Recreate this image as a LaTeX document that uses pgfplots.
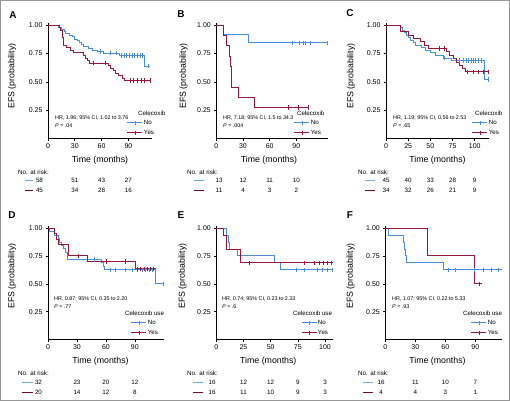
\documentclass[border=0pt]{standalone}
\usepackage{fontspec}
\setmainfont{Liberation Sans}
\usepackage{pgfplots}
\pgfplotsset{compat=1.18}
\definecolor{kmblue}{RGB}{74,144,217}
\definecolor{kmred}{RGB}{150,25,60}
\definecolor{rkblue}{RGB}{110,170,225}
\definecolor{rkred}{RGB}{120,10,40}
\definecolor{framegray}{RGB}{150,150,150}
\newcommand\fs[1]{\fontsize{#1}{#1}\selectfont}
\pgfplotsset{
 km/.style={
  scale only axis, anchor=south west,
  axis x line*=bottom, axis y line*=left,
  axis line style={line width=0.75bp, -},
  ymin=0, ymax=1.02,
  ytick={0.25,0.5,0.75,1}, yticklabels={0.25,0.50,0.75,1.00},
  tick align=outside, major tick length=2bp,
  tick style={line width=0.6bp, black},
  ticklabel style={font=\fs{7}},
  /pgf/number format/assume math mode=true,
  clip=false,
  legend style={draw=none, fill=none, inner sep=0pt, outer sep=0pt, anchor=north west,
    font=\fs{6.2}, nodes={inner sep=1bp, text height=4.5bp, text depth=1bp}, row sep=2.5bp},
  legend cell align=left,
  legend image code/.code={\draw[mark repeat=2,mark phase=2,##1] plot coordinates {(0bp,0bp) (7.5bp,0bp) (15bp,0bp)};},
 },
 cb/.style={kmblue, line width=0.9bp, const plot, forget plot},
 cr/.style={kmred, line width=0.9bp, const plot, forget plot},
 cens/.style={only marks, mark=|, mark size=2.2bp, mark options={line width=0.6bp}, forget plot},
 lgb/.style={kmblue, line width=0.9bp, mark=|, mark size=2.2bp, mark options={line width=0.6bp}},
 lgr/.style={kmred, line width=0.9bp, mark=|, mark size=2.2bp, mark options={line width=0.6bp}},
}
\newcommand\rk[3]{\node[font=\fs{6.3}] at (#1bp,-#2bp) {#3};}
\begin{document}
\begin{tikzpicture}
\useasboundingbox (0,0) rectangle (510bp,-401bp);
\draw[framegray, line width=0.8bp] (0.4bp,-0.4bp) rectangle (509.6bp,-400.6bp);

% ---------------- Panel A ----------------
\begin{axis}[km, at={(48bp,-138.5bp)}, width=103.6bp, height=115.5bp, xmin=0, xmax=116, xtick={0,30,60,90},
  legend style={at={(0.763,0.169)}}]
\addplot[cb] coordinates {(0,1) (12,0.983) (15,0.966) (18,0.948) (20,0.931) (24,0.914) (27,0.897) (30,0.879) (33,0.862) (35,0.845) (37,0.828) (40,0.810) (45,0.793) (50,0.776) (55,0.768) (62,0.755) (80,0.733) (108,0.640) (114,0.640)};
\addplot[cr] coordinates {(0,1) (12.5,0.978) (14,0.956) (16,0.889) (16.8,0.822) (21,0.80) (25,0.778) (29,0.756) (40,0.733) (42,0.711) (44,0.689) (46,0.667) (68,0.644) (70,0.622) (73,0.60) (76,0.578) (79,0.556) (83,0.533) (86,0.511) (115,0.511)};
\addplot[cens, kmblue] coordinates {(58,0.768) (70,0.755) (76,0.755) (82,0.733) (85,0.733) (88,0.733) (91,0.733) (94,0.733) (97,0.733) (100,0.733) (103,0.733) (106,0.733) (112,0.640)};
\addplot[cens, kmred] coordinates {(51,0.667) (64,0.667) (92,0.511) (96,0.511) (100,0.511) (104,0.511) (108,0.511) (114,0.511)};
\addlegendimage{lgb}\addlegendentry{No}
\addlegendimage{lgr}\addlegendentry{Yes}
\end{axis}

% ---------------- Panel B ----------------
\begin{axis}[km, at={(216.3bp,-138.5bp)}, width=112bp, height=115.5bp, xmin=0, xmax=126, xtick={0,30,60,90},
  legend style={at={(0.694,0.169)}}]
\addplot[cb] coordinates {(0,1) (7.5,0.923) (36,0.846) (126,0.846)};
\addplot[cr] coordinates {(0,1) (7.5,0.909) (11.5,0.818) (14.5,0.727) (15.5,0.636) (16.5,0.545) (17.5,0.455) (25,0.364) (42.5,0.273) (103,0.273)};
\addplot[cens, kmblue] coordinates {(86,0.846) (93,0.846) (98,0.846) (100,0.846) (106,0.846) (125,0.846)};
\addplot[cens, kmred] coordinates {(80.5,0.273) (92.5,0.273) (103,0.273)};
\addlegendimage{lgb}\addlegendentry{No}
\addlegendimage{lgr}\addlegendentry{Yes}
\end{axis}

% ---------------- Panel C ----------------
\begin{axis}[km, at={(386bp,-138.5bp)}, width=102.9bp, height=115.5bp, xmin=0, xmax=116, xtick={0,25,50,75,100},
  legend style={at={(0.836,0.169)}}]
\addplot[cb] coordinates {(0,1) (16.6,0.978) (18,0.956) (21,0.933) (23,0.911) (25.5,0.889) (28,0.867) (31,0.844) (33,0.822) (40,0.80) (44,0.778) (50,0.756) (56,0.733) (65,0.711) (74,0.689) (111,0.52) (115.5,0.52)};
\addplot[cr] coordinates {(0,1) (16.6,0.941) (25,0.912) (30.6,0.882) (39,0.853) (43,0.824) (47.5,0.794) (68,0.765) (72,0.735) (76,0.706) (79.5,0.676) (83,0.647) (86,0.618) (89,0.588) (115.5,0.588)};
\addplot[cens, kmblue] coordinates {(66,0.711) (83,0.689) (87,0.689) (90,0.689) (93,0.689) (96,0.689) (98.5,0.689) (101,0.689) (104,0.689) (107,0.689) (115,0.52)};
\addplot[cens, kmred] coordinates {(60,0.794) (66,0.794) (92,0.588) (98,0.588) (104,0.588) (110,0.588) (115,0.588)};
\addlegendimage{lgb}\addlegendentry{No}
\addlegendimage{lgr}\addlegendentry{Yes}
\end{axis}

% ---------------- Panel D ----------------
\begin{axis}[km, at={(48bp,-339.6bp)}, width=115.8bp, height=113.8bp, xmin=0, xmax=120, xtick={0,30,60,90},
  legend style={at={(0.717,0.181)}}]
\addplot[cb] coordinates {(0,1) (2,0.969) (7,0.938) (10.5,0.906) (12.3,0.875) (14,0.844) (15.7,0.813) (18.4,0.781) (20,0.719) (55,0.688) (57,0.656) (59,0.625) (111,0.50) (119,0.50)};
\addplot[cr] coordinates {(0,1) (7.2,0.95) (9,0.90) (10.5,0.85) (21,0.75) (41.3,0.70) (90.8,0.635) (112,0.635)};
\addplot[cens, kmblue] coordinates {(48,0.719) (65,0.625) (70,0.625) (80.5,0.625) (87,0.625) (92.5,0.625) (97.5,0.625) (101,0.625) (104.5,0.625) (108,0.625) (119,0.50)};
\addplot[cens, kmred] coordinates {(31,0.75) (60,0.70) (80.5,0.70) (92.5,0.635) (96,0.635) (99.5,0.635) (103,0.635) (106,0.635) (109.5,0.635)};
\addlegendimage{lgb}\addlegendentry{No}
\addlegendimage{lgr}\addlegendentry{Yes}
\end{axis}

% ---------------- Panel E ----------------
\begin{axis}[km, at={(216.3bp,-339.6bp)}, width=116.9bp, height=113.8bp, xmin=0, xmax=107.5, xtick={0,25,50,75,100},
  legend style={at={(0.725,0.181)}}]
\addplot[cb] coordinates {(0,1) (9,0.9375) (11,0.875) (12.5,0.8125) (19,0.75) (53.5,0.6875) (59,0.625) (107.5,0.625)};
\addplot[cr] coordinates {(0,1) (6.5,0.9375) (9,0.875) (9.5,0.8125) (22,0.6875) (107.5,0.6875)};
\addplot[cens, kmblue] coordinates {(73.4,0.625) (81,0.625) (93,0.625) (97.9,0.625) (102.4,0.625) (107,0.625)};
\addplot[cens, kmred] coordinates {(30.6,0.6875) (81,0.6875) (90,0.6875) (95,0.6875) (98,0.6875) (102.4,0.6875) (106,0.6875)};
\addlegendimage{lgb}\addlegendentry{No}
\addlegendimage{lgr}\addlegendentry{Yes}
\end{axis}

% ---------------- Panel F ----------------
\begin{axis}[km, at={(385.3bp,-339.6bp)}, width=117bp, height=113.8bp, xmin=0, xmax=117, xtick={0,30,60,90},
  legend style={at={(0.732,0.181)}}]
\addplot[cb] coordinates {(0,1) (2.7,0.9375) (17.7,0.875) (19.3,0.8125) (20.3,0.75) (21.3,0.6875) (57.7,0.625) (117,0.625)};
\addplot[cr] coordinates {(0,1) (42,0.75) (89.3,0.50) (96.7,0.50)};
\addplot[cens, kmblue] coordinates {(63,0.625) (70,0.625) (89.3,0.625) (97.7,0.625) (106,0.625) (112.7,0.625)};
\addplot[cens, kmred] coordinates {(93.7,0.50)};
\addlegendimage{lgb}\addlegendentry{No}
\addlegendimage{lgr}\addlegendentry{Yes}
\end{axis}

% ---------------- texts ----------------
\foreach \l/\x/\y in {A/13/15, B/181/14, C/350/13, D/12/215, E/181/215, F/350/215}
  {\node[font=\bfseries\fs{10}] at (\x bp,-\y bp) {\l};}
\foreach \x/\y in {12/76, 183.5/76, 351/76, 12/276, 182.5/276, 350.5/276}
  {\node[rotate=90, font=\fs{8.8}] at (\x bp,-\y bp) {EFS (probability)};}
\foreach \x/\y in {100/160, 269/160, 437.5/160, 100.5/361.7, 268.3/361.7, 437.5/361.7}
  {\node[font=\fs{8.8}] at (\x bp,-\y bp) {Time (months)};}

% HR texts
\node[anchor=west, font=\fs{5.4}, inner sep=0pt] at (55bp,-118.3bp) {HR, 1.96; 95\% CI, 1.02 to 3.76};
\node[anchor=west, font=\fs{5.4}, inner sep=0pt] at (55bp,-126bp) {\textit{P} = .04};
\node[anchor=west, font=\fs{5.4}, inner sep=0pt] at (223bp,-118.3bp) {HR, 7.18; 95\% CI, 1.5 to 34.3};
\node[anchor=west, font=\fs{5.4}, inner sep=0pt] at (223bp,-126bp) {\textit{P} = .004};
\node[anchor=west, font=\fs{5.4}, inner sep=0pt] at (393bp,-118.3bp) {HR, 1.19; 95\% CI, 0.56 to 2.53};
\node[anchor=west, font=\fs{5.4}, inner sep=0pt] at (393bp,-126bp) {\textit{P} = .65};
\node[anchor=west, font=\fs{5.4}, inner sep=0pt] at (54bp,-299.3bp) {HR, 0.87; 95\% CI, 0.35 to 2.20};
\node[anchor=west, font=\fs{5.4}, inner sep=0pt] at (54bp,-306.7bp) {\textit{P} = .77};
\node[anchor=west, font=\fs{5.4}, inner sep=0pt] at (222bp,-299.3bp) {HR, 0.74; 95\% CI, 0.23 to 2.33};
\node[anchor=west, font=\fs{5.4}, inner sep=0pt] at (222bp,-306.7bp) {\textit{P} = .6};
\node[anchor=west, font=\fs{5.4}, inner sep=0pt] at (392bp,-299.3bp) {HR, 1.07; 95\% CI, 0.22 to 5.33};
\node[anchor=west, font=\fs{5.4}, inner sep=0pt] at (392bp,-306.7bp) {\textit{P} = .93};

% legend titles
\node[anchor=west, font=\fs{6.2}, inner sep=0pt] at (138bp,-113.3bp) {Celecoxib};
\node[anchor=west, font=\fs{6.2}, inner sep=0pt] at (297bp,-113.3bp) {Celecoxib};
\node[anchor=west, font=\fs{6.2}, inner sep=0pt] at (475bp,-113.3bp) {Celecoxib};
\node[anchor=west, font=\fs{6.2}, inner sep=0pt] at (125bp,-313.3bp) {Celecoxib use};
\node[anchor=west, font=\fs{6.2}, inner sep=0pt] at (293bp,-313.3bp) {Celecoxib use};
\node[anchor=west, font=\fs{6.2}, inner sep=0pt] at (463bp,-313.3bp) {Celecoxib use};

% at-risk tables
\foreach \x/\y in {18/172.3, 187/172.3, 358/172.3, 18/373.3, 187/373.3, 358/373.3}
  {\node[anchor=west, font=\fs{6.3}, inner sep=0pt] at (\x bp,-\y bp) {No. at risk:};}
% A
\draw[rkblue, line width=1bp] (25bp,-180.3bp) -- (33bp,-180.3bp);
\draw[rkred, line width=1bp] (25bp,-190.3bp) -- (33bp,-190.3bp);
\rk{39.5}{180.3}{58}\rk{74.8}{180.3}{51}\rk{101.6}{180.3}{43}\rk{128.4}{180.3}{27}
\rk{39.5}{190.3}{45}\rk{74.8}{190.3}{34}\rk{101.6}{190.3}{28}\rk{128.4}{190.3}{16}
% B
\draw[rkblue, line width=1bp] (194bp,-180.3bp) -- (204bp,-180.3bp);
\draw[rkred, line width=1bp] (194bp,-190.3bp) -- (204bp,-190.3bp);
\rk{219}{180.3}{13}\rk{243}{180.3}{12}\rk{269.6}{180.3}{11}\rk{296.3}{180.3}{10}
\rk{219}{190.3}{11}\rk{243}{190.3}{4}\rk{269.6}{190.3}{3}\rk{296.3}{190.3}{2}
% C
\draw[rkblue, line width=1bp] (365bp,-180.3bp) -- (375bp,-180.3bp);
\draw[rkred, line width=1bp] (365bp,-190.3bp) -- (375bp,-190.3bp);
\rk{386}{180.3}{45}\rk{408.2}{180.3}{40}\rk{430.4}{180.3}{33}\rk{452.5}{180.3}{28}\rk{474.7}{180.3}{9}
\rk{386}{190.3}{34}\rk{408.2}{190.3}{32}\rk{430.4}{190.3}{26}\rk{452.5}{190.3}{21}\rk{474.7}{190.3}{9}
% D
\draw[rkblue, line width=1bp] (22bp,-382.7bp) -- (33bp,-382.7bp);
\draw[rkred, line width=1bp] (22bp,-392.7bp) -- (33bp,-392.7bp);
\rk{38.5}{382.7}{32}\rk{77}{382.7}{23}\rk{105.9}{382.7}{20}\rk{134.9}{382.7}{12}
\rk{38.5}{392.7}{20}\rk{77}{392.7}{14}\rk{105.9}{392.7}{12}\rk{134.9}{392.7}{8}
% E
\draw[rkblue, line width=1bp] (193bp,-382.7bp) -- (203bp,-382.7bp);
\draw[rkred, line width=1bp] (193bp,-392.7bp) -- (203bp,-392.7bp);
\rk{212}{382.7}{16}\rk{243.5}{382.7}{12}\rk{270.7}{382.7}{12}\rk{297.8}{382.7}{9}\rk{325}{382.7}{3}
\rk{212}{392.7}{16}\rk{243.5}{392.7}{11}\rk{270.7}{392.7}{10}\rk{297.8}{392.7}{9}\rk{325}{392.7}{3}
% F
\draw[rkblue, line width=1bp] (363bp,-382.7bp) -- (373bp,-382.7bp);
\draw[rkred, line width=1bp] (363bp,-392.7bp) -- (373bp,-392.7bp);
\rk{381}{382.7}{16}\rk{415.3}{382.7}{11}\rk{445.3}{382.7}{10}\rk{475.3}{382.7}{7}
\rk{381}{392.7}{4}\rk{415.3}{392.7}{4}\rk{445.3}{392.7}{3}\rk{475.3}{392.7}{1}
\end{tikzpicture}
\end{document}
